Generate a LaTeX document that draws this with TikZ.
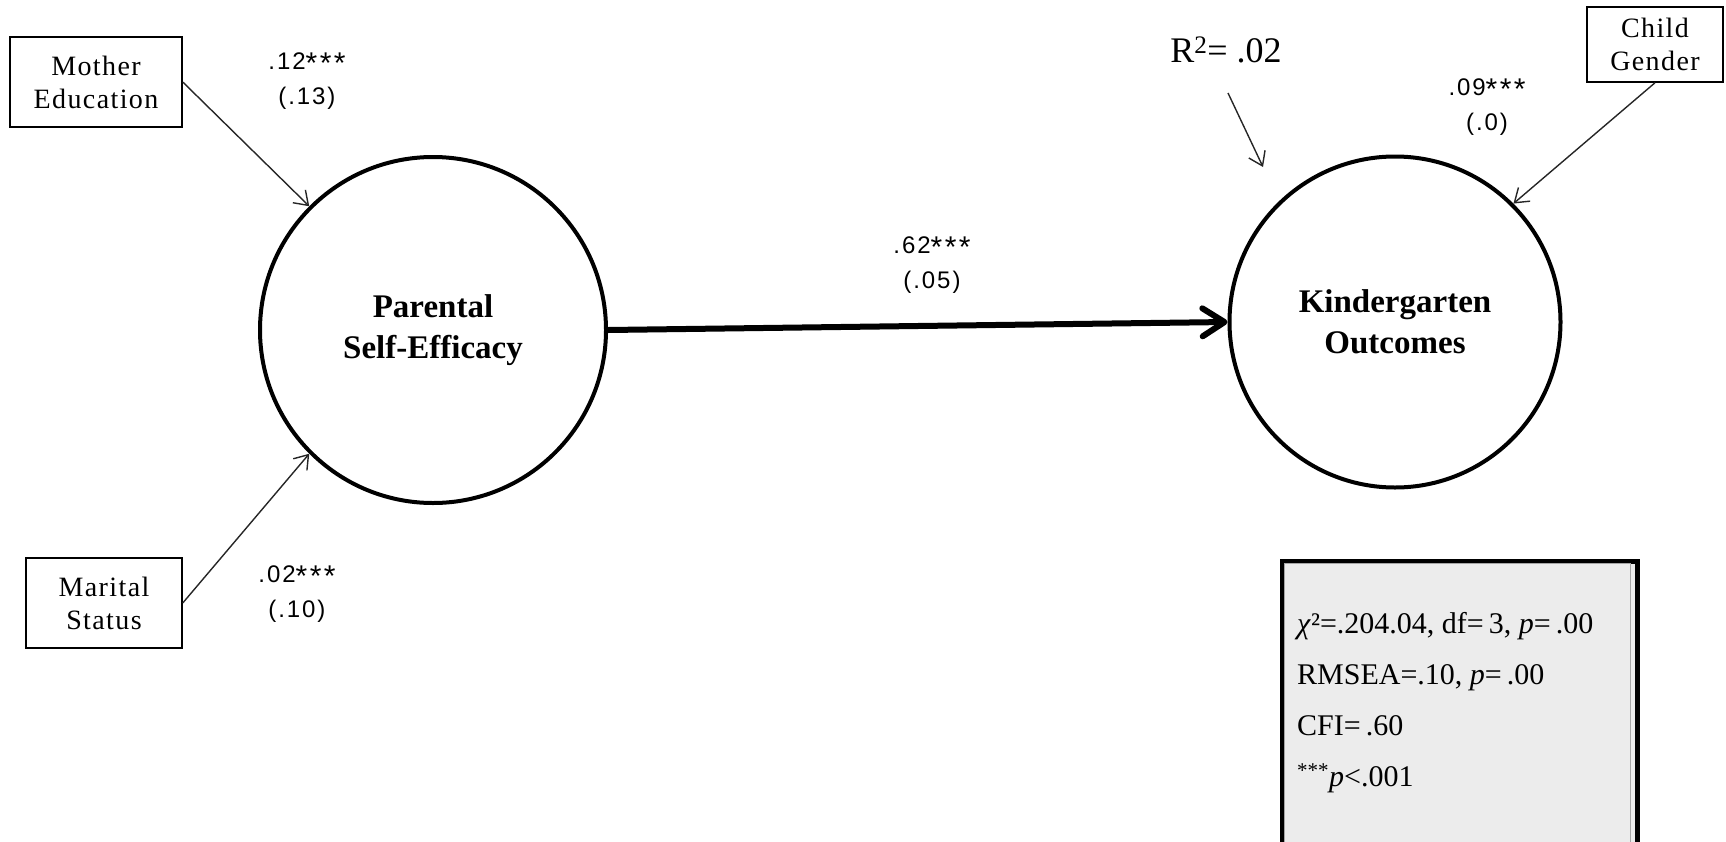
\documentclass[tikz,border=0pt]{standalone}
\usepackage{fontspec}
\setmainfont{Liberation Serif}
\newfontfamily\boxfont[LetterSpace=5]{Liberation Serif}
\newfontfamily\labfont[LetterSpace=8]{Liberation Sans}
\usetikzlibrary{arrows.meta}
\definecolor{fitgray}{HTML}{ECECEC}
\newcommand{\stars}{\raisebox{-4pt}{\fontsize{30}{35}\selectfont ***}}
\begin{document}
\begin{tikzpicture}[x=1pt,y=-1pt,
  obsbox/.style={draw=black, line width=1.5pt, inner sep=0pt, align=center,
    font=\boxfont\fontsize{28}{33}\selectfont},
  latent/.style={circle, draw=black, line width=4pt, inner sep=0pt, align=center,
    font=\bfseries\fontsize{33}{41}\selectfont},
  pathlab/.style={align=center, inner sep=0pt, font=\labfont\fontsize{24}{35}\selectfont},
  thinarrow/.style={draw=black!85, line width=1.4pt, -{Straight Barb[length=13pt,width=18pt]}},
  mainarrow/.style={draw=black, line width=6pt, line cap=round, -{Straight Barb[length=22pt,width=28pt,round]}},
  fitbox/.style={draw=black, line width=5pt, fill=fitgray, inner sep=0pt, anchor=north west}
]
\useasboundingbox (0,0) rectangle (1726,841);
\clip (0,0) rectangle (1726,841);

% observed variables
\node[obsbox, minimum width=172pt, minimum height=90pt] (me) at (96,82) {Mother\\Education};
\node[obsbox, minimum width=156pt, minimum height=90pt] (ms) at (104,603) {Marital\\Status};
\node[obsbox, minimum width=136pt, minimum height=75pt] (cg) at (1655,44.5) {Child\\Gender};

% latent variables
\node[latent, minimum size=346pt] (pse) at (433,330) {Parental\\Self-Efficacy};
\node[latent, minimum size=331pt] (ko) at (1395,322) {Kindergarten\\Outcomes};

% paths
\draw[thinarrow] (me.east) -- (pse.135);
\draw[thinarrow] (ms.east) -- (pse.225);
\draw[thinarrow] (cg.south) -- (ko.45);
\draw[mainarrow] (pse.east) -- (ko.west);

% R squared
\node[inner sep=0pt, font=\fontsize{36}{40}\selectfont] (r2) at (1226,50) {R\textsuperscript{2}= .02};
\coordinate (r2a) at (1228,93);
\coordinate (r2b) at (1263,167);
\draw[thinarrow] (r2a) -- (r2b);

% path labels
\node[pathlab] (l1) at (307,81) {.12\stars\\(.13)};
\node[pathlab] (l2) at (297,594) {.02\stars\\(.10)};
\node[pathlab] (l3) at (932,265) {.62\stars\\(.05)};
\node[pathlab] (l4) at (1487,107) {.09\stars\\(.0)};

% fit box
\node[fitbox, minimum width=355pt, minimum height=330pt] (fit) at (1279.5,558.5) {};
\draw[black!35, line width=0.8pt] (1284,563) rectangle (1630,880);
\node[anchor=west, align=left, inner sep=0pt, font=\fontsize{30}{51}\selectfont] (fittext) at (1297,703)
  {\textit{χ}²=.204.04, df=\,3, \textit{p}=\,.00\\
   RMSEA=.10, \textit{p}=\,.00\\
   CFI=\,.60\\
   \textsuperscript{***}\textit{p}<.001};
\end{tikzpicture}
\end{document}
